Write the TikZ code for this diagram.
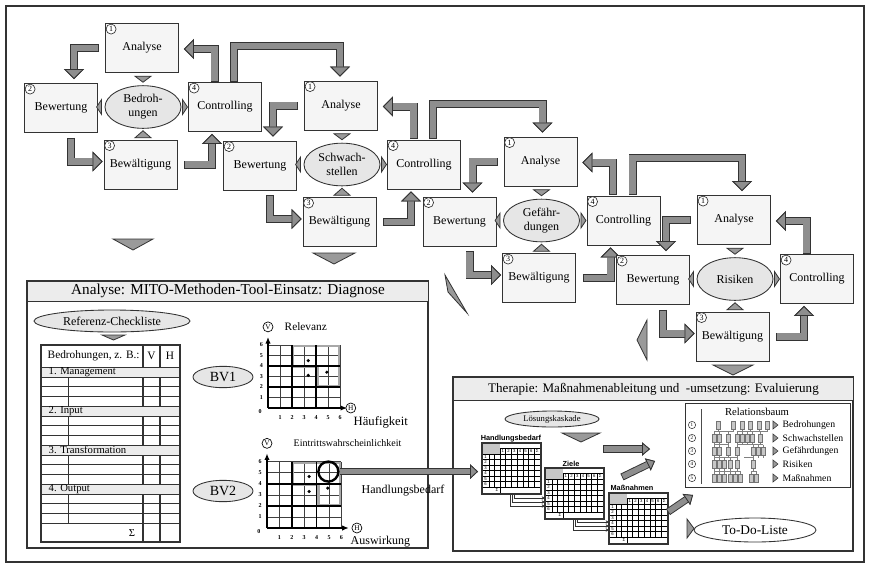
\documentclass[tikz,border=0pt]{standalone}
\usepackage{fontspec}
\setmainfont{Liberation Serif}
\newfontfamily\tabsans{Liberation Sans}
\usetikzlibrary{arrows.meta,shapes.geometric,calc}

\definecolor{boxfill}{HTML}{F5F5F5}
\definecolor{ellfill}{HTML}{E6E6E6}
\definecolor{arrfill}{HTML}{8E8E8E}
\definecolor{edge}{HTML}{333333}
\definecolor{barfill}{HTML}{ECECEC}
\definecolor{tribar}{HTML}{9A9A9A}
\definecolor{hlgray}{HTML}{A8A8A8}

\newcommand\fsz[1]{\fontsize{#1}{#1}\selectfont}
\newcommand\tinysans{\tabsans\fontsize{3.2}{3.4}\selectfont}
\newcommand\gridnum{\bfseries\fontsize{4.5}{5}\selectfont}

\tikzset{
  stage/.style={draw=edge, fill=boxfill, line width=0.65pt, minimum width=54.75pt,
    minimum height=36.75pt, inner sep=0pt, font=\fsz{9}},
  topic/.style={ellipse, draw=edge, fill=ellfill, line width=0.65pt, minimum width=57pt,
    minimum height=32pt, inner sep=0pt, align=center, font=\fontsize{9}{10.5}\selectfont},
  ell2/.style={ellipse, draw=edge, fill=ellfill, line width=0.65pt, inner sep=0pt},
  numc/.style={circle, draw=edge, line width=0.5pt, fill=white, inner sep=0pt,
    minimum size=7.5pt, font=\fsz{6}},
  letc/.style={circle, draw=black, line width=0.5pt, fill=white, inner sep=0pt,
    minimum size=7.5pt, font=\fsz{5.5}},
  tri/.style={draw=edge, fill=tribar, line width=0.6pt, line join=miter},
  titlebar/.style={draw=edge, fill=barfill, line width=0.7pt, inner sep=0pt},
  panel/.style={draw=edge, line width=0.8pt, fill=white},
  thinln/.style={line width=0.4pt, draw=edge},
  thickln/.style={line width=1.4pt, draw=edge},
  treeln/.style={line width=0.35pt, draw=black!50},
  conn/.style={line width=0.4pt, draw=edge, -{Stealth[length=2.5pt 0 0,width=2.5pt 0 0]}},
}

% block arrow: outer width, inner width, tip width, tip length, path
\newcommand\blockarr[5]{%
  \draw[line width=#1, draw=edge, line join=miter,
    -{Triangle[width=#3 0 0,length=#4 0 0,line width=0.6pt 0 0,color=edge,fill=arrfill]}] #5;
  \draw[line width=#2, draw=arrfill, line join=miter, shorten <=0.6pt,
    -{Triangle[width=#3 0 0,length=#4 0 0,line width=0.6pt 0 0,color=edge,fill=arrfill]}] #5;}
\newcommand\bigarr[1]{\blockarr{6pt}{4.6pt}{15pt}{7.5pt}{#1}}

% one Analyse / Bewertung / Bewaeltigung / Controlling cycle
\newcommand\pdca[4]{%
  \begin{scope}[shift={(#2,#3)}]
    \node[stage] (A#1) at (142,48) {Analyse};
    \node[stage] (B#1) at (61,108) {Bewertung};
    \node[topic] (E#1) at (143,107) {#4};
    \node[stage] (C#1) at (225,107) {Controlling};
    \node[stage] (W#1) at (140.5,164.5) {Bewältigung};
  \end{scope}
  \node[numc] (nA#1) at ($(A#1.north west)+(6,6)$) {1};
  \node[numc] (nB#1) at ($(B#1.north west)+(6,6)$) {2};
  \node[numc] (nW#1) at ($(W#1.north west)+(6,6)$) {3};
  \node[numc] (nC#1) at ($(C#1.north west)+(6,6)$) {4};
  \draw[tri] ($(E#1.north)+(-8,-9)$) -- ($(E#1.north)+(8,-9)$) -- ($(E#1.north)+(0,-3)$) -- cycle;
  \draw[tri] ($(E#1.south)+(-8,9)$) -- ($(E#1.south)+(8,9)$) -- ($(E#1.south)+(0,2)$) -- cycle;
  \draw[tri] ($(E#1.west)+(-3,-7.5)$) -- ($(E#1.west)+(-3,7.5)$) -- ($(E#1.west)+(-8,0)$) -- cycle;
  \draw[tri] ($(E#1.east)+(1,-7.5)$) -- ($(E#1.east)+(1,7.5)$) -- ($(E#1.east)+(6,0)$) -- cycle;
  \bigarr{($(A#1.west)+(-6,0)$) -| ($(B#1.north)+(13,-4)$)}
  \bigarr{($(B#1.south)+(10,5)$) |- ($(W#1.west)+(-1,-3)$)}
  \bigarr{($(W#1.east)+(7,0)$) -| ($(C#1.south)+(-13,2)$)}
  \bigarr{($(C#1.north)+(-10.5,-0.5)$) |- ($(A#1.east)+(5,1)$)}
}

% 6x6 assessment matrix: origin x, origin y, unit x, unit y, extras
\newcommand\riskgrid[5]{%
  \begin{scope}[shift={(#1,#2)}, x=#3, y=#4]
    \draw[line width=0.4pt, draw=black!75, step=1] (0,0) grid (6,6);
    \draw[line width=1.6pt, draw=hlgray] (2.1,5.9) -- (5.9,5.9) -- (5.9,2.1) -- (4.15,2.1)
      -- (4.15,3.9) -- (2.1,3.9) -- cycle;
    \draw[line width=1.2pt] (0,2) -- (6,2) (0,4) -- (6,4) (2,0) -- (2,6) (4,0) -- (4,6);
    \draw[line width=1.2pt, -{Latex[length=5pt 0 0,width=4pt 0 0]}] (0,0) -- (0,6.75);
    \draw[line width=1.2pt, -{Latex[length=5pt 0 0,width=4pt 0 0]}] (0,0) -- (6.6,0);
    \foreach \n in {1,...,6} {\node[font=\gridnum] at (-0.55,\n) {\n};}
    \node[font=\gridnum] at (-0.65,-0.3) {0};
    \foreach \n in {1,...,6} {\node[font=\gridnum] at (\n,-0.9) {\n};}
    #5
  \end{scope}}

% small planning table: name, x, y (top-left corner)
\newcommand\mtable[3]{%
  \node[draw=edge, line width=0.8pt, fill=white, minimum width=43.5pt, minimum height=37.5pt,
    anchor=north west, inner sep=0pt] (#1) at (#2,#3) {};
  \begin{scope}[shift={(#2,#3)}]
    \fill[black!22] (0,0) rectangle (18,11);
    \draw[line width=0.35pt] (18,5) -- (58,5) (0,11) -- (58,11);
    \foreach \yy in {16.5,22,27.5,33,38.5,44} {\draw[line width=0.35pt] (0,\yy) -- (58,\yy);}
    \foreach \xx in {7,12.5} {\draw[line width=0.35pt] (\xx,11) -- (\xx,44);}
    \foreach \xx in {18,23.7,29.4,35.1,40.8,46.5,52.2} {\draw[line width=0.35pt] (\xx,5) -- (\xx,44);}
    \draw[line width=0.35pt] (18,44) -- (18,50);
    \foreach \n [count=\c from 0] in {1,...,6} {\node[font=\tinysans] at ({20.85+5.7*\c},8) {\n};}
    \node[font=\tinysans] at (55.1,8) {Σ};
    \foreach \n in {1,...,6} {\node[font=\tinysans] at (3.5,{8.25+5.5*\n}) {\n};}
    \node[font=\tinysans] at (15,47) {Σ};
  \end{scope}
  \draw[line width=0.8pt, draw=edge] (#1.south west) rectangle (#1.north east);}

\newcommand\treebox[2]{\filldraw[draw=black!55, fill=black!22, line width=0.3pt]
  ({#1-1.8},{#2-4}) rectangle ({#1+1.8},{#2+4});}

\begin{document}
\begin{tikzpicture}[x=0.75pt,y=-0.75pt]
\useasboundingbox (0,0) rectangle (870,568);
\fill[white] (0,0) rectangle (870,568);
\draw[line width=0.9pt, draw=edge] (6,6) rectangle (864,562);

% the four cycles
\pdca{1}{0}{0}{Bedroh-\\ungen}
\pdca{2}{199}{57.5}{Schwach-\\stellen}
\pdca{3}{398.5}{113.5}{Gefähr-\\dungen}
\pdca{4}{592}{172}{Risiken}

% Controlling hands over to the next Analyse
\bigarr{($(C1.north)+(9,-0.5)$) |- ($(A2.north)+(-1,-35)$) -- ($(A2.north)+(-1,-4)$)}
\bigarr{($(C2.north)+(9,-0.5)$) |- ($(A3.north)+(2,-33)$) -- ($(A3.north)+(2,-4)$)}
\bigarr{($(C3.north)+(9,-0.5)$) |- ($(A4.north)+(8,-37)$) -- ($(A4.north)+(8,-4)$)}

% pointers towards the two panels
\draw[tri] (113,239) -- (153,239) -- (133,250) -- cycle;
\draw[tri] (313,253) -- (355,253) -- (334,264) -- cycle;
\draw[tri] (445,275) -- (467,313) -- (448,292) -- cycle;
\draw[tri] (647,320) -- (647,360) -- (637,340) -- cycle;
\draw[tri] (713,365) -- (753,365) -- (733,375) -- cycle;

% ---------------- Diagnose panel ----------------
\draw[panel] (27,281) rectangle (428,548);
\node[titlebar, minimum width=300.75pt, minimum height=15.5pt, anchor=north west,
  font=\fsz{11.4}] (diagT) at (27,280.5) {Analyse: MITO-Methoden-Tool-Einsatz: Diagnose};

\node[ell2, minimum width=117pt, minimum height=16.5pt, font=\fsz{9}] (rc) at (112,321) {Referenz-Checkliste};
\draw[tri] (102,335) -- (125,335) -- (113.5,340) -- cycle;

\node[draw=edge, line width=0.8pt, fill=white, minimum width=104.25pt, minimum height=147.75pt,
  anchor=north west, inner sep=0pt] (ck) at (41,345) {};
\node[anchor=west, font=\fsz{8.5}] (ckh) at (43,356) {Bedrohungen, z. B.:};
\node[font=\fsz{8.5}] (ckv) at (151.5,356) {V};
\node[font=\fsz{8.5}] (ckhh) at (170,356) {H};
\draw[thinln] (41,367) -- (180,367);
\draw[thickln] (143,345) -- (143,367) (160,345) -- (160,367);
\foreach \k/\lab in {0/1. Management,1/2. Input,2/3. Transformation,3/4. Output}{
  \pgfmathsetmacro\yb{367+39*\k}
  \draw[thinln, fill=barfill] (41,\yb) rectangle (180,{\yb+10});
  \node[anchor=west, font=\fsz{8}] at (44,{\yb+5}) {\lab};
  \foreach \r in {1,2,3} {\draw[thinln] (41,{\yb+10+9.667*\r}) -- (180,{\yb+10+9.667*\r});}
  \draw[thinln] (68,{\yb+10}) -- (68,{\yb+39});
  \draw[thickln] (143,{\yb+10}) -- (143,{\yb+39}) (160,{\yb+10}) -- (160,{\yb+39});
}
\draw[thickln] (143,523) -- (143,542) (160,523) -- (160,542);
\node[font=\fsz{8}] (cksum) at (132,533) {Σ};
\draw[line width=0.8pt, draw=edge] (41,345) rectangle (180,542);

\node[ell2, minimum width=45pt, minimum height=16pt, font=\fsz{10.5}] (bv1) at (223,377) {BV1};
\node[ell2, minimum width=45pt, minimum height=16pt, font=\fsz{10.5}] (bv2) at (223,491) {BV2};

\riskgrid{268}{408}{9pt}{7.9pt}{%
  \fill (3.35,4.5) circle (1.3pt) (3.35,3.1) circle (1.3pt) (4.9,3.4) circle (1.3pt);
  \node[letc] (gv1) at (0,7.7) {V};
  \node[letc] (gh1) at (6.9,0) {H};
}
\riskgrid{267}{528}{9.3pt}{8.3pt}{%
  \fill (3.4,4.65) circle (1.3pt) (3.4,3.3) circle (1.3pt) (4.9,3.6) circle (1.3pt);
  \node[circle, draw=black, line width=1.8pt, minimum size=15pt, inner sep=0pt] (hb) at (4.95,5.1) {};
  \node[letc] (gv2) at (0,7.65) {V};
  \node[letc] (gh2) at (7.25,0) {H};
}
\node[anchor=west, font=\fsz{8.5}] (lrel) at (280,327) {Relevanz};
\node[anchor=west, font=\fsz{9.5}] (lhf) at (349,422) {Häufigkeit};
\node[anchor=west, font=\fsz{7.5}] (lew) at (289,443) {Eintrittswahrscheinlichkeit};
\node[anchor=west, font=\fsz{9}] (lhb) at (357,491) {Handlungsbedarf};
\node[anchor=west, font=\fsz{9}] (law) at (346,542) {Auswirkung};

% ---------------- Therapie panel ----------------
\draw[panel] (453,377) rectangle (853,551);
\node[titlebar, minimum width=300pt, minimum height=17.25pt, anchor=north west,
  font=\fsz{9.8}] (therT) at (453,377) {Therapie: Maßnahmenableitung und\enspace -umsetzung: Evaluierung};

\node[ell2, minimum width=70.5pt, minimum height=12pt, font=\fsz{6.5}] (lk) at (552,419) {Lösungskaskade};
\draw[tri] (562,433) -- (600,433) -- (581,442) -- cycle;

\mtable{hbt}{482}{443}
\mtable{zt}{545}{468}
\mtable{mt}{609}{493}
\node[font=\tabsans\bfseries\fsz{5.5}] (thb) at (511,439) {Handlungsbedarf};
\node[font=\tabsans\bfseries\fsz{5.5}] (tzt) at (571,464) {Ziele};
\node[font=\tabsans\bfseries\fsz{5.5}] (tmt) at (632,488) {Maßnahmen};

\foreach \i/\yy in {0/506,1/502,2/498}
  {\draw[conn] ($(hbt.south west)+({28+2*\i},0)$) |- (zt.west |- 0,\yy);}
\foreach \i/\yy in {0/530,1/526,2/522}
  {\draw[conn] ($(zt.south west)+({28+2*\i},0)$) |- (mt.west |- 0,\yy);}

\blockarr{4.8pt}{3.4pt}{11pt}{6pt}{(hb.east) -- ($(hbt.west |- hb.east)+(-4,0)$)}

\coordinate (s1) at (603,449); \coordinate (e1) at (650,449);
\coordinate (s2) at (622,477); \coordinate (e2) at (655,461);
\coordinate (s3) at (668,512); \coordinate (e3) at (693,495);
\blockarr{5.5pt}{4.1pt}{10pt}{6pt}{(s1) -- (e1)}
\blockarr{5.5pt}{4.1pt}{10pt}{6pt}{(s2) -- (e2)}
\blockarr{5.5pt}{4.1pt}{10pt}{6pt}{(s3) -- (e3)}

% relation tree
\node[draw=edge, line width=0.8pt, fill=white, minimum width=123.75pt, minimum height=63pt,
  anchor=north west, inner sep=0pt] (rb) at (685,403) {};
\node[font=\fsz{8}] (rbt) at (757,412) {Relationsbaum};
\draw[line width=0.6pt, draw=black!70] (701,409) -- (701,484);
\foreach \yy [count=\k] in {425,438,451,464,478}
  {\node[circle, draw=black!80, line width=0.4pt, inner sep=0pt, minimum size=5.5pt, font=\fsz{3.8}] (rn\k) at (692,\yy) {\k};}
\foreach \yy/\lab in {425/Bedrohungen,438/Schwachstellen,451/Gefährdungen,464/Risiken,478/Maßnahmen}{
  \draw[tri, line width=0.4pt] (773,{\yy-4}) -- (773,{\yy+4}) -- (778,\yy) -- cycle;
  \node[anchor=west, font=\fsz{7.3}] at (778,\yy) {\lab};}
\draw[treeln] (714,431.5) -- (733,431.5) (737,431.5) -- (767,431.5)
  (714,444.5) -- (728,444.5) (737,444.5) -- (763,444.5)
  (714,457.5) -- (737,457.5) (744,457.5) -- (753,457.5)
  (714,471) -- (740,471) (751,471) -- (756,471);
\foreach \xx in {718,733,742,750,759,767} {\draw[treeln] (\xx,425) -- (\xx,431.5);}
\foreach \xx in {714,719,728,737,742,747,752,760} {\draw[treeln] (\xx,431.5) -- (\xx,444.5);}
\foreach \xx in {714,719,728,737,753,758,763} {\draw[treeln] (\xx,444.5) -- (\xx,457.5);}
\foreach \xx in {714,719,724,730,737,753} {\draw[treeln] (\xx,457.5) -- (\xx,471);}
\foreach \xx in {714,719,724,730,735,740,751,756} {\draw[treeln] (\xx,471) -- (\xx,478);}
\foreach \xx in {718,733,742,750,759,767} {\treebox{\xx}{425}}
\foreach \xx in {714,719,728,737,742,747,752,760} {\treebox{\xx}{438}}
\foreach \xx in {714,719,728,737,753,758,763} {\treebox{\xx}{451}}
\foreach \xx in {714,719,724,730,737,753} {\treebox{\xx}{464}}
\foreach \xx in {714,719,724,730,735,740,751,756} {\treebox{\xx}{478}}

\draw[tri] (687,519) -- (687,538) -- (694,528.5) -- cycle;
\node[ell2, fill=white, minimum width=91.5pt, minimum height=18pt, font=\fsz{10}] (todo) at (755,530) {To-Do-Liste};

\end{tikzpicture}
\end{document}
